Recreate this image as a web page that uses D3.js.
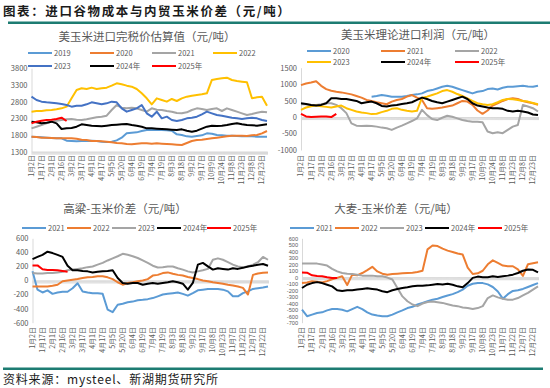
<!DOCTYPE html>
<html>
<head>
<meta charset="utf-8">
<script src="https://cdn.jsdelivr.net/npm/d3@7"></script>
<style>
body { margin: 0; background: #fff; }
svg { display: block; font-family: "Noto Sans CJK SC", "Noto Sans", sans-serif; }
</style>
</head>
<body>
<svg id="chart" width="550" height="388"></svg>
<script>
// DATA --------------------------------------------------------------------------
// x axis = trading day index (0..235), values sampled every 5 trading days
const dateLabelsA = ["1月2日","1月17日","2月1日","2月16日","3月2日","3月17日","4月1日","4月17日","5月5日","5月20日","6月4日","6月19日","7月4日","7月19日","8月3日","8月18日","9月2日","9月17日","10月9日","10月24日","11月8日","11月23日","12月8日","12月23日"];
const dateLabelsB = ["1月2日","1月17日","2月1日","2月16日","3月2日","3月17日","4月1日","4月17日","5月5日","5月20日","6月4日","6月19日","7月4日","7月19日","8月3日","8月18日","9月2日","9月17日","10月8日","10月23日","11月7日","11月22日","12月7日","12月22日"];

// 美玉米进口完税价估算值
const cost2019 = [1750,1740,1730,1720,1710,1700,1700,1630,1620,1610,1620,1620,1630,1620,1600,1590,1600,1640,1720,1850,1870,1880,1920,1950,1960,1950,1950,1940,1930,1820,1800,1760,1750,1770,1790,1850,1840,1800,1790,1780,1780,1770,1760,1760,1760,1750,1750,1750];
const cost2020 = [1750,1740,1720,1720,1710,1700,1700,1700,1700,1690,1660,1650,1620,1620,1610,1600,1580,1560,1550,1530,1520,1540,1550,1550,1540,1550,1540,1530,1520,1510,1500,1560,1620,1650,1660,1680,1700,1720,1740,1760,1780,1780,1780,1770,1790,1800,1850,1920];
const cost2021 = [2000,2050,2100,2150,2200,2230,2250,2270,2280,2260,2250,2270,2300,2330,2350,2380,2550,2700,2620,2600,2620,2600,2550,2500,2600,2560,2550,2520,2500,2460,2450,2480,2550,2600,2580,2550,2580,2600,2520,2600,2550,2500,2450,2400,2430,2470,2500,2480];
const cost2022 = [2500,2520,2520,2540,2550,2570,2600,2650,2900,3150,3200,3180,3220,3180,3200,3220,3280,3350,3320,3280,3250,3180,3050,2900,2720,2900,2850,2800,2880,2820,2900,2950,2980,3000,3020,3050,3450,3480,3500,3520,3450,3420,3400,3380,2900,2930,2950,2680];
const cost2023 = [2950,2850,2800,2780,2770,2750,2730,2700,2650,2680,2680,2720,2780,2750,2720,2750,2800,2780,2600,2500,2550,2600,2700,2450,2350,2500,2300,2350,2250,2220,2250,2300,2320,2350,2420,2500,2450,2400,2380,2350,2320,2300,2280,2300,2320,2300,2250,2220];
const cost2024 = [2200,2180,2150,2170,2200,2150,1980,2000,2010,2050,2120,2100,2080,2070,2060,2080,2100,2110,2120,2130,2100,2080,2050,2000,2000,1990,1980,1970,1960,1950,1970,1930,1900,1930,1990,2050,2080,2070,2080,2100,2130,2150,2120,2100,2090,2080,2100,2120];
const cost2025 = [2150,2200,2230,2250,2260,2280,2320,2220];

// 美玉米理论进口利润
const profit2020 = [null,null,null,null,null,null,null,null,null,null,null,null,null,null,620,640,670,650,620,620,620,640,670,690,720,790,820,870,920,950,920,870,820,770,720,770,790,850,870,840,890,920,920,940,950,930,920,950];
const profit2021 = [970,1020,1050,1090,950,850,800,770,750,720,690,640,590,520,490,450,420,390,470,520,550,620,670,590,520,270,250,270,290,320,350,420,490,470,370,200,100,200,350,420,490,550,570,550,490,450,420,370];
const profit2022 = [390,390,370,370,390,420,420,370,270,120,-190,-260,-270,-260,-270,-290,-320,-340,-390,-320,-260,-190,-120,-40,220,60,-60,-90,-20,40,10,-40,-90,-120,-140,-140,-160,-440,-490,-460,-490,-390,-290,-240,370,320,270,170];
const profit2023 = [220,290,330,350,330,310,290,320,350,270,220,170,140,120,90,100,150,190,250,270,220,190,170,190,590,620,670,720,790,820,770,700,640,570,490,420,390,370,390,450,520,550,540,520,490,470,430,390];
const profit2024 = [420,400,370,350,370,420,570,570,550,550,520,490,420,450,470,420,340,320,350,370,400,420,450,520,590,550,490,450,420,470,520,570,620,550,420,350,320,290,270,270,250,190,170,190,170,140,80,60];
const profit2025 = [100,20,0,10,20,20,0,100];

// 高粱-玉米价差
const sorghum2021 = [130,-130,-170,-140,-190,-170,-160,-160,-110,-40,-155,-170,-180,-180,-190,-415,-450,-345,-330,-310,-300,-280,-275,-265,-250,-225,-200,-190,-180,-170,-190,-215,-180,-140,-130,-120,-120,-120,-130,-155,-225,-225,-180,-155,-120,-110,-100,-85];
const sorghum2022 = [-85,-85,-85,-85,-75,-60,-10,0,10,20,35,45,50,60,60,45,20,-25,-60,-35,-25,-10,0,20,70,80,105,115,95,80,70,50,35,20,0,-10,-25,-35,-45,-60,-70,-85,-105,-200,80,100,110,115];
const sorghum2023 = [105,100,100,105,105,115,125,145,155,165,175,190,200,225,250,285,315,345,380,365,345,320,285,250,210,185,190,200,200,175,155,130,115,130,145,165,295,315,295,260,225,200,190,200,225,260,335,295];
const sorghum2024 = [305,335,365,410,390,365,335,210,145,145,135,130,115,125,130,135,145,35,-35,-45,-35,-35,-60,-45,-35,-45,-35,-25,-10,-25,-45,-130,-35,225,250,200,155,175,165,155,175,165,180,200,210,225,235,210];
const sorghum2025 = [215,215,160,150,150,145,135,125];

// 大麦-玉米价差
const barley2021 = [-500,-600,-575,-550,-540,-510,-490,-490,-500,-525,-490,-455,-490,-540,-575,-590,-600,-600,-575,-540,-510,-475,-455,-420,-395,-370,-345,-330,-305,-280,-260,-230,-190,-130,-100,-90,-90,-110,-150,-220,-330,-260,-210,-200,-180,-150,-120,-90];
const barley2022 = [-90,-80,-60,-70,-80,-60,-30,-10,15,-120,40,30,65,110,160,90,55,40,50,55,60,65,70,80,100,430,490,480,440,410,390,365,350,150,50,60,100,200,260,220,180,170,170,120,20,200,215,230];
const barley2023 = [210,210,210,210,195,180,130,90,65,55,50,40,25,25,25,15,15,-5,-35,-165,-295,-370,-420,-445,-405,-380,-375,-385,-395,-415,-435,-445,-465,-475,-490,-475,-445,-320,-280,-310,-330,-345,-345,-320,-280,-240,-190,-140];
const barley2024 = [-165,-115,-90,-75,-90,-115,-140,-200,-210,-200,-200,-190,-180,-170,-180,-190,-215,-230,-200,-180,-165,-155,-140,-130,-130,-125,-115,-105,-110,-100,-115,-140,-155,-90,-10,10,0,0,15,5,15,25,40,65,100,120,115,75];
const barley2025 = [75,70,30,20,15,0,-10,-10];

const N = 236;      // trading days on the category axis
const STEP = 5;     // sample spacing
const LABEL_EVERY = 10;

const C = { lblue: "#5B9BD5", orange: "#ED7D31", gray: "#A5A5A5", yellow: "#FFC000", blue: "#4472C4", black: "#000000", red: "#FF0000" };

//PANELS -------------------------------------------------------------------------
const panels = [
  {
    title: "美玉米进口完税价估算值（元/吨）", titleX: 147, titleY: 41,
    left: 31.5, right: 267, top: 68.3, bottom: 151.7, labelTop: 155,
    yDomain: [1300, 3800], yStep: 500, yFont: 7.5, yFamily: null, cross: 1300, labels: dateLabelsA,
    series: [
      { name: "2019", color: C.lblue, values: cost2019 },
      { name: "2020", color: C.orange, values: cost2020 },
      { name: "2021", color: C.gray, values: cost2021 },
      { name: "2022", color: C.yellow, values: cost2022 },
      { name: "2023", color: C.blue, values: cost2023 },
      { name: "2024年", color: C.black, values: cost2024 },
      { name: "2025年", color: C.red, values: cost2025 }
    ],
    legend: [[28,53],[90,53],[152,53],[213,53],[28,66],[90,66],[152,66]]
  },
  {
    title: "美玉米理论进口利润（元/吨）", titleX: 418, titleY: 38.5,
    left: 301, right: 538, top: 67.7, bottom: 150, labelTop: 155,
    yDomain: [-1000, 1500], yStep: 500, yFont: 7.5, yFamily: null, cross: 0, labels: dateLabelsA,
    series: [
      { name: "2020", color: C.lblue, values: profit2020 },
      { name: "2021", color: C.orange, values: profit2021 },
      { name: "2022", color: C.gray, values: profit2022 },
      { name: "2023", color: C.yellow, values: profit2023 },
      { name: "2024年", color: C.black, values: profit2024 },
      { name: "2025年", color: C.red, values: profit2025 }
    ],
    legend: [[307,51],[381,51],[455,51],[307,62],[381,62],[455,62]]
  },
  {
    title: "高粱-玉米价差（元/吨）", titleX: 125, titleY: 212.5,
    left: 32.5, right: 268, top: 238.3, bottom: 322.7, labelTop: 327,
    yDomain: [-600, 600], yStep: 200, yFont: 7.5, yFamily: null, cross: 0, labels: dateLabelsB,
    series: [
      { name: "2021", color: C.lblue, values: sorghum2021 },
      { name: "2022", color: C.orange, values: sorghum2022 },
      { name: "2023", color: C.gray, values: sorghum2023 },
      { name: "2024年", color: C.black, values: sorghum2024 },
      { name: "2025年", color: C.red, values: sorghum2025 }
    ],
    legend: [[22,228],[67,228],[112,228],[157,228],[207,228]]
  },
  {
    title: "大麦-玉米价差（元/吨）", titleX: 396, titleY: 212.5,
    left: 302, right: 538, top: 238.3, bottom: 322.7, labelTop: 327,
    // dense 100-step labels: compact Latin font so they do not collide
    yDomain: [-700, 600], yStep: 100, yFont: 5.6, yFamily: "'Liberation Sans', Arial, sans-serif", cross: 0, labels: dateLabelsB,
    series: [
      { name: "2021", color: C.lblue, values: barley2021 },
      { name: "2022", color: C.orange, values: barley2022 },
      { name: "2023", color: C.gray, values: barley2023 },
      { name: "2024年", color: C.black, values: barley2024 },
      { name: "2025年", color: C.red, values: barley2025 }
    ],
    legend: [[290,228],[335,228],[380,228],[425,228],[478,228]]
  }
];

const svg = d3.select("#chart");

//HEADER / FOOTER ----------------------------------------------------------------
svg.append("text")
    .attr("x", 3).attr("y", 16)
    .attr("font-size", 12.5).attr("font-weight", "bold")
    .attr("letter-spacing", 1.6).attr("fill", "#1a1a1a")
    .text("图表：进口谷物成本与内贸玉米价差（元/吨）");
svg.append("rect").attr("x", 8).attr("y", 21.5).attr("width", 542).attr("height", 2.5).attr("fill", "#1d7c72");

svg.append("rect").attr("x", 3).attr("y", 367.5).attr("width", 540).attr("height", 2.5).attr("fill", "#1d7c72");
svg.append("text")
    .attr("x", 3).attr("y", 384)
    .attr("font-size", 12).attr("letter-spacing", 0.8).attr("fill", "#1a1a1a")
    .text("资料来源：mysteel、新湖期货研究所");

//DRAW ---------------------------------------------------------------------------
const drawPanel = (p) => {
    const x = d3.scaleLinear().domain([0, N - 1]).range([p.left, p.right]);
    const y = d3.scaleLinear().domain(p.yDomain).range([p.bottom, p.top]);
    const g = svg.append("g");

    // Title
    g.append("text")
        .attr("x", p.titleX).attr("y", p.titleY)
        .attr("text-anchor", "middle")
        .attr("font-size", 11.5).attr("fill", "#595959")
        .text(p.title);

    // Y axis (plain integers with a hyphen minus, like the original)
    const yAxis = d3.axisLeft(y)
        .tickValues(d3.range(p.yDomain[0], p.yDomain[1] + 1, p.yStep))
        .tickFormat(d => String(d))
        .tickSize(0).tickPadding(4);
    const ya = g.append("g").attr("transform", `translate(${p.left},0)`).call(yAxis);
    ya.select(".domain").attr("stroke", "#d9d9d9");
    ya.selectAll("text").attr("font-size", p.yFont).attr("fill", "#595959")
        .attr("font-family", p.yFamily || "'Noto Sans CJK SC', 'Noto Sans', sans-serif");

    // X axis with a tick on every trading day
    const xAxis = d3.axisBottom(x)
        .tickValues(d3.range(N)).tickSize(3).tickSizeOuter(0).tickFormat("");
    const xa = g.append("g").attr("transform", `translate(0,${y(p.cross)})`).call(xAxis);
    xa.select(".domain").attr("stroke", "#d9d9d9");
    xa.selectAll(".tick line").attr("stroke", "#d9d9d9");

    // Date labels (low position, rotated)
    g.selectAll(".date-label")
        .data(p.labels)
        .enter()
        .append("text")
        .attr("class", "date-label")
        .attr("transform", (d, i) => `translate(${x(i * LABEL_EVERY)},${p.labelTop}) rotate(-90)`)
        .attr("text-anchor", "end")
        .attr("dy", "0.35em")
        .attr("font-size", 7).attr("fill", "#595959")
        .text(d => d);

    // Lines
    const line = d3.line()
        .defined(d => d != null)
        .x((d, i) => x(i * STEP))
        .y(d => y(d));

    p.series.forEach(s => {
        g.append("path")
            .datum(s.values)
            .attr("fill", "none")
            .attr("stroke", s.color)
            .attr("stroke-width", 2)
            .attr("stroke-linejoin", "round")
            .attr("d", line);
    });

    // Legend
    p.series.forEach((s, i) => {
        const [lx, ly] = p.legend[i];
        g.append("line")
            .attr("x1", lx).attr("x2", lx + 24)
            .attr("y1", ly).attr("y2", ly)
            .attr("stroke", s.color).attr("stroke-width", 2);
        g.append("text")
            .attr("x", lx + 26).attr("y", ly + 2.7)
            .attr("font-size", 7.5).attr("fill", "#595959")
            .text(s.name);
    });
};

panels.forEach(drawPanel);
</script>
</body>
</html>
